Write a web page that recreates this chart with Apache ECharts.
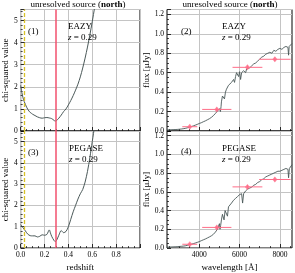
<!DOCTYPE html>
<html>
<head>
<meta charset="utf-8">
<script src="https://cdn.jsdelivr.net/npm/echarts@6/dist/echarts.min.js"></script>
<style>html,body{margin:0;padding:0;background:#fff}#c{width:295px;height:273px}</style>
</head>
<body>
<div id="c"></div>
<script>
// ---- data ----
const zEazy   = [0.00,0.01,0.02,0.03,0.04,0.05,0.06,0.07,0.08,0.09,0.10,0.12,0.14,0.16,0.18,0.20,0.22,0.24,0.26,0.28,0.29,0.30,0.32,0.34,0.36,0.38,0.40,0.42,0.44,0.46,0.48,0.50,0.52,0.54,0.56,0.58,0.60,0.62,0.64];
const chiEazy = [2.07,1.75,1.50,1.33,1.20,1.08,0.98,0.90,0.84,0.80,0.76,0.70,0.64,0.60,0.58,0.60,0.61,0.59,0.56,0.48,0.45,0.47,0.58,0.72,0.88,1.00,1.18,1.38,1.60,1.85,2.12,2.45,2.85,3.30,3.80,4.35,4.95,5.60,6.30];
const zPeg    = [0.00,0.02,0.04,0.06,0.08,0.10,0.12,0.14,0.16,0.18,0.20,0.22,0.24,0.25,0.26,0.28,0.29,0.30,0.32,0.34,0.36,0.38,0.40,0.42,0.44,0.46,0.48,0.50,0.52,0.54,0.56,0.58,0.60,0.62,0.64];
const chiPeg  = [1.10,0.95,0.80,0.65,0.58,0.57,0.57,0.52,0.55,0.62,0.60,0.64,0.85,0.70,0.55,0.35,0.30,0.35,0.60,0.82,0.72,0.78,1.00,1.35,1.70,2.00,2.30,2.55,2.75,3.10,3.60,4.25,5.00,5.75,6.50];

const wlEazy   = [2400,2500,2600,2700,2800,2900,3000,3100,3200,3300,3400,3500,3600,3700,3800,3900,4000,4100,4200,4300,4400,4500,4600,4700,4800,4850,4900,4950,5000,5050,5080,5100,5150,5200,5250,5300,5350,5400,5450,5500,5600,5700,5750,5800,5850,5900,5950,6000,6050,6100,6200,6300,6350,6400,6500,6600,6700,6800,6900,7000,7100,7200,7300,7400,7500,7600,7700,7800,7900,8000,8100,8200,8300,8400,8430,8460,8500,8600];
const fluxEazy = [0.012,0.012,0.013,0.014,0.015,0.016,0.018,0.020,0.023,0.027,0.032,0.038,0.045,0.052,0.060,0.068,0.077,0.085,0.095,0.104,0.115,0.126,0.140,0.158,0.180,0.190,0.205,0.215,0.230,0.200,0.250,0.300,0.360,0.380,0.330,0.400,0.430,0.420,0.470,0.460,0.500,0.530,0.500,0.560,0.600,0.600,0.560,0.610,0.530,0.600,0.620,0.600,0.640,0.660,0.650,0.670,0.690,0.700,0.720,0.740,0.760,0.770,0.790,0.800,0.810,0.800,0.830,0.820,0.840,0.850,0.840,0.860,0.870,0.860,0.780,0.870,0.880,0.900];
const wlPeg    = [2400,2500,2600,2700,2800,2900,3000,3100,3200,3300,3400,3500,3600,3700,3800,3900,4000,4100,4200,4300,4400,4500,4600,4700,4800,4850,4900,4950,5000,5030,5060,5100,5150,5200,5230,5280,5350,5400,5450,5500,5600,5700,5800,5900,6000,6050,6100,6150,6200,6300,6400,6500,6600,6700,6800,6900,7000,7100,7200,7300,7400,7500,7600,7700,7800,7900,8000,8100,8200,8300,8400,8430,8470,8500,8600];
const fluxPeg  = [0.010,0.010,0.011,0.012,0.013,0.014,0.016,0.018,0.020,0.023,0.028,0.034,0.040,0.046,0.053,0.060,0.068,0.078,0.087,0.096,0.107,0.118,0.130,0.146,0.170,0.185,0.200,0.220,0.260,0.200,0.240,0.300,0.360,0.370,0.300,0.400,0.420,0.340,0.440,0.450,0.480,0.510,0.530,0.550,0.570,0.560,0.580,0.480,0.580,0.610,0.630,0.640,0.650,0.670,0.680,0.700,0.710,0.730,0.740,0.760,0.770,0.780,0.790,0.800,0.810,0.820,0.820,0.830,0.840,0.850,0.840,0.750,0.850,0.870,0.890];

// photometry: wavelength, flux, wavelength half-width, flux error
const photWl    = [3530, 4870, 6390, 7750];
const photWlErr = [370, 725, 740, 780];
const photFluxE = [0.044, 0.222, 0.655, 0.738];
const photFluxP = [0.040, 0.220, 0.653, 0.732];
const photFluxErr = [0.012, 0.018, 0.02, 0.02];

const zBest = 0.29;
const zSpec = 0.03;

const zTicks = [0.0,0.2,0.4,0.6,0.8];
const wlMajor = [4000,6000,8000];
const wlMinor = [2500,3000,3500,4500,5000,5500,6500,7000,7500,8500];

// ---- helpers ----
const zip = (a,b) => a.map((v,i)=>[v,b[i]]);
const FONT = '"Liberation Serif", "DejaVu Serif", serif';
const GRID_C = '#c4c4c4';
const LINE_C = '#4a5858';
const RED = '#f2506e';
const PINK = '#ff6d88';
const YEL = '#d8c228';

const grids = [
  {left:15, top:9.5, width:125, height:121.5},
  {left:15, top:131, width:125, height:121},
  {left:167, top:9.5, width:125, height:121.5},
  {left:167, top:131, width:125, height:121}
].map(g => Object.assign({show:true, borderColor:'#000', borderWidth:1, backgroundColor:'transparent'}, g));

const tickStyle = {show:true, inside:true, length:4, lineStyle:{color:'#000', width:0.8}};
const minorStyle = (n)=>({show:true, splitNumber:n, length:2, lineStyle:{color:'#000', width:0.7}});
const labelStyle = {color:'#000', fontFamily:FONT, fontSize:7.5};
const nameStyle = {color:'#000', fontFamily:FONT, fontSize:9};

function zAxis(gi, showLabels){
  return {type:'value', gridIndex:gi, min:0, max:1, interval:0.2,
    axisLine:{show:false}, axisTick:tickStyle, minorTick:minorStyle(4),
    splitLine:{show:true, lineStyle:{color:GRID_C, width:1}},
    axisLabel:Object.assign({show:showLabels, margin:3, showMaxLabel:false, formatter:v=>v.toFixed(1)}, labelStyle),
    name: showLabels ? 'redshift' : '', nameLocation:'middle', nameGap:15, nameTextStyle:nameStyle};
}
function wlAxis(gi, showLabels){
  return {type:'value', gridIndex:gi, min:2400, max:8600,
    axisLine:{show:false},
    axisTick:Object.assign({customValues:wlMajor}, tickStyle),
    splitLine:{show:true, lineStyle:{color:GRID_C, width:1}},
    axisLabel:Object.assign({show:showLabels, margin:3, customValues:wlMajor, formatter:v=>String(v)}, labelStyle),
    name: showLabels ? 'wavelength [Å]' : '', nameLocation:'middle', nameGap:15, nameTextStyle:nameStyle};
}
function wlMinorAxis(gi){
  return {type:'value', gridIndex:gi, min:2400, max:8600, position:'bottom',
    axisLine:{show:false}, splitLine:{show:false}, axisLabel:{show:false},
    axisTick:{show:true, inside:true, length:2, customValues:wlMinor, lineStyle:{color:'#000', width:0.7}}};
}
function chiAxis(gi){
  return {type:'value', gridIndex:gi, min:0, max:5.5, interval:1,
    axisLine:{show:false}, axisTick:tickStyle, minorTick:minorStyle(5),
    splitLine:{show:true, lineStyle:{color:GRID_C, width:1}},
    axisLabel:Object.assign({margin:3, showMaxLabel:false}, labelStyle),
    name:'chi-squared value', nameLocation:'middle', nameGap:10, nameTextStyle:nameStyle};
}
function fluxAxis(gi){
  return {type:'value', gridIndex:gi, min:0, max:1.25, interval:0.2,
    axisLine:{show:false}, axisTick:tickStyle, minorTick:minorStyle(4),
    splitLine:{show:true, lineStyle:{color:GRID_C, width:1}},
    axisLabel:Object.assign({margin:3, showMaxLabel:false, formatter:v=>v.toFixed(1)}, labelStyle),
    name:'flux [μJy]', nameLocation:'middle', nameGap:16, nameTextStyle:nameStyle};
}

const vLines = {
  silent:true, symbol:'none', label:{show:false},
  data:[
    {xAxis:zSpec, lineStyle:{color:YEL, width:1.3, type:[4,2]}},
    {xAxis:zBest, lineStyle:{color:RED, width:1.5, type:'solid'}}
  ]
};

function chiSeries(xi, yi, xs, ys){
  return {type:'line', xAxisIndex:xi, yAxisIndex:yi, data:zip(xs,ys), symbol:'none', smooth:0.3,
    lineStyle:{color:LINE_C, width:1}, markLine:vLines, z:3};
}
function specSeries(xi, yi, xs, ys){
  return {type:'line', xAxisIndex:xi, yAxisIndex:yi, data:zip(xs,ys), symbol:'none',
    lineStyle:{color:LINE_C, width:0.9}, z:3};
}
function errSeries(xi, yi, fluxes){
  const d = photWl.map((w,i)=>[w, fluxes[i], photWlErr[i], photFluxErr[i]]);
  return {type:'custom', xAxisIndex:xi, yAxisIndex:yi, data:d, z:5,
    renderItem:(p, api)=>{
      const x=api.value(0), y=api.value(1), xe=api.value(2), ye=api.value(3);
      const l=api.coord([x-xe,y]), r=api.coord([x+xe,y]);
      const t=api.coord([x,y+ye]), b=api.coord([x,y-ye]);
      return {type:'group', children:[
        {type:'line', shape:{x1:l[0],y1:l[1],x2:r[0],y2:r[1]}, style:{stroke:PINK, lineWidth:1}},
        {type:'line', shape:{x1:t[0],y1:t[1],x2:b[0],y2:b[1]}, style:{stroke:PINK, lineWidth:1}}
      ]};
    }};
}
function ptSeries(xi, yi, fluxes){
  return {type:'scatter', xAxisIndex:xi, yAxisIndex:yi, data:zip(photWl, fluxes), symbol:'diamond', symbolSize:[5,6],
    itemStyle:{color:PINK}, z:6};
}

function txt(x, y, text, align, rich){
  return {type:'text', x:x, y:y, silent:true, z:10,
    style:{text:text, fill:'#000', fontFamily:FONT, fontSize:9,
      align:align||'left', verticalAlign:'middle', rich:rich}};
}
const richTitle = {
  n:{fontFamily:FONT, fontSize:9, fill:'#000'},
  b:{fontFamily:FONT, fontSize:9, fontWeight:'bold', fill:'#000'}
};
const richZ = {
  n:{fontFamily:FONT, fontSize:9, fill:'#000'},
  i:{fontFamily:FONT, fontSize:9, fontStyle:'italic', fill:'#000'}
};
const zText = '{i|z}{n| = 0.29}';
const titleText = '{n|unresolved source (}{b|north}{n|)}';

const option = {
  animation:false,
  textStyle:{fontFamily:FONT},
  grid:grids,
  xAxis:[zAxis(0,false), zAxis(1,true), wlAxis(2,false), wlAxis(3,true), wlMinorAxis(2), wlMinorAxis(3)],
  yAxis:[chiAxis(0), chiAxis(1), fluxAxis(2), fluxAxis(3)],
  series:[
    chiSeries(0,0,zEazy,chiEazy),
    chiSeries(1,1,zPeg,chiPeg),
    specSeries(2,2,wlEazy,fluxEazy),
    errSeries(2,2,photFluxE),
    ptSeries(2,2,photFluxE),
    specSeries(3,3,wlPeg,fluxPeg),
    errSeries(3,3,photFluxP),
    ptSeries(3,3,photFluxP)
  ],
  graphic:[
    txt(78, 4.5, titleText, 'center', richTitle),
    txt(230, 4.5, titleText, 'center', richTitle),
    txt(28, 32, '(1)'),
    txt(68, 27, 'EAZY'),
    txt(68, 37.5, zText, 'left', richZ),
    txt(181, 32, '(2)'),
    txt(222, 27, 'EAZY'),
    txt(222, 37.5, zText, 'left', richZ),
    txt(28, 153, '(3)'),
    txt(69, 149, 'PEGASE'),
    txt(69, 159.5, zText, 'left', richZ),
    txt(181, 152, '(4)'),
    txt(222, 149, 'PEGASE'),
    txt(222, 159.5, zText, 'left', richZ)
  ]
};
const chart = echarts.init(document.getElementById('c'), null, {renderer:'canvas'});
chart.setOption(option);
</script>
</body>
</html>
